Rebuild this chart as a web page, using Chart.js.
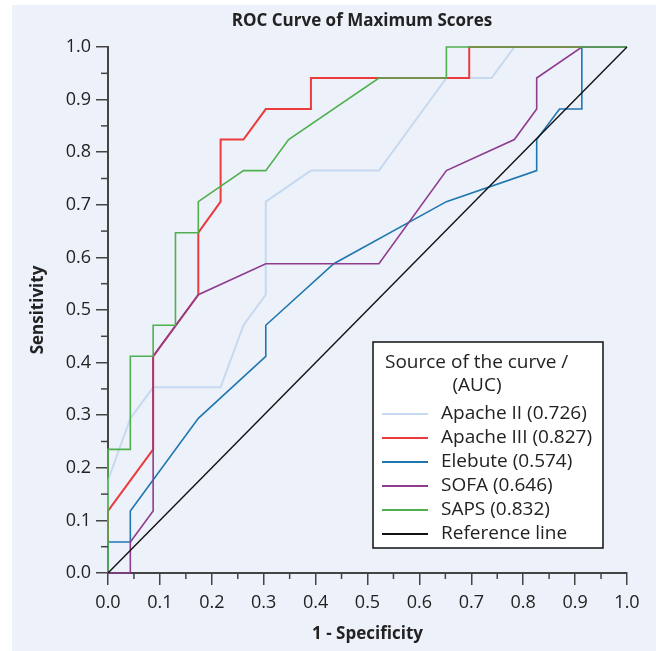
<!DOCTYPE html>
<html>
<head>
<meta charset="utf-8">
<script src="https://cdn.jsdelivr.net/npm/chart.js@4.4.1/dist/chart.umd.min.js"></script>
<style>
  body { margin: 0; background: #ffffff; }
  #wrap { position: absolute; left: 12px; top: 5px; width: 644px; height: 646px; }
</style>
</head>
<body>
<div id="wrap"><canvas id="rocChart"></canvas></div>
<script>
// Data
const seriesLabels = ["Apache II (0.726)", "Apache III (0.827)", "Elebute (0.574)", "SOFA (0.646)", "SAPS (0.832)", "Reference line"];

const apache2X = [0, 0, 0.043, 0.087, 0.217, 0.261, 0.304, 0.304, 0.391, 0.522, 0.652, 0.739, 0.783, 1.0];
const apache2Y = [0, 0.176, 0.294, 0.353, 0.353, 0.471, 0.529, 0.706, 0.765, 0.765, 0.941, 0.941, 1.0, 1.0];

const apache3X = [0, 0, 0.087, 0.087, 0.174, 0.174, 0.217, 0.217, 0.261, 0.304, 0.391, 0.391, 0.696, 0.696, 1.0];
const apache3Y = [0, 0.118, 0.235, 0.412, 0.529, 0.647, 0.706, 0.824, 0.824, 0.882, 0.882, 0.941, 0.941, 1.0, 1.0];

const elebuteX = [0, 0, 0.043, 0.043, 0.174, 0.304, 0.304, 0.435, 0.652, 0.826, 0.826, 0.870, 0.913, 0.913, 1.0];
const elebuteY = [0, 0.059, 0.059, 0.118, 0.294, 0.412, 0.471, 0.588, 0.706, 0.765, 0.824, 0.882, 0.882, 1.0, 1.0];

const sofaX = [0, 0.043, 0.043, 0.087, 0.087, 0.174, 0.304, 0.522, 0.652, 0.783, 0.826, 0.826, 0.913, 1.0];
const sofaY = [0, 0, 0.059, 0.118, 0.412, 0.529, 0.588, 0.588, 0.765, 0.824, 0.882, 0.941, 1.0, 1.0];

const sapsX = [0, 0, 0.043, 0.043, 0.087, 0.087, 0.130, 0.130, 0.174, 0.174, 0.261, 0.304, 0.348, 0.522, 0.652, 0.652, 1.0];
const sapsY = [0, 0.235, 0.235, 0.412, 0.412, 0.471, 0.471, 0.647, 0.647, 0.706, 0.765, 0.765, 0.824, 0.941, 0.941, 1.0, 1.0];

const refX = [0, 1];
const refY = [0, 1];

const majorTicks = [0, 0.1, 0.2, 0.3, 0.4, 0.5, 0.6, 0.7, 0.8, 0.9, 1.0];
const minorTicks = [0.05, 0.15, 0.25, 0.35, 0.45, 0.55, 0.65, 0.75, 0.85, 0.95];

const colors = ["#c5daf0", "#ec3b3d", "#1f77b0", "#8f3b8f", "#4fb04f", "#111111"];
const widths = [2, 2, 1.6, 1.6, 1.6, 1.4];

Chart.defaults.font.family = "'Open Sans', sans-serif";
Chart.defaults.color = "#222";

function toPoints(xs, ys) {
    return xs.map((x, i) => ({ x: x, y: ys[i] }));
}

const allX = [apache2X, apache3X, elebuteX, sofaX, sapsX, refX];
const allY = [apache2Y, apache3Y, elebuteY, sofaY, sapsY, refY];

const datasets = seriesLabels.map((label, i) => ({
    label: label,
    data: toPoints(allX[i], allY[i]),
    borderColor: colors[i],
    backgroundColor: colors[i],
    borderWidth: widths[i],
    showLine: true,
    pointRadius: 0,
    tension: 0,
    clip: 4,
    order: 6 - i
}));

// Panel background
const panelBg = {
    id: "panelBg",
    beforeDraw(chart) {
        const ctx = chart.ctx;
        ctx.save();
        ctx.fillStyle = "#edf1f9";
        ctx.fillRect(0, 0, chart.width, chart.height);
        ctx.restore();
    }
};

// Title, minor ticks and legend box
const extras = {
    id: "extras",
    afterDraw(chart) {
        const ctx = chart.ctx;
        const xs = chart.scales.x;
        const ys = chart.scales.y;
        const area = chart.chartArea;

        ctx.save();

        // title
        ctx.fillStyle = "#222";
        ctx.font = "bold 17px 'Open Sans', sans-serif";
        ctx.textAlign = "center";
        ctx.textBaseline = "middle";
        ctx.fillText("ROC Curve of Maximum Scores", 350, 16);

        // minor ticks
        ctx.strokeStyle = "#444";
        ctx.lineWidth = 1.5;
        minorTicks.forEach((v) => {
            const px = xs.getPixelForValue(v);
            ctx.beginPath();
            ctx.moveTo(px, area.bottom);
            ctx.lineTo(px, area.bottom + 6);
            ctx.stroke();
            const py = ys.getPixelForValue(v);
            ctx.beginPath();
            ctx.moveTo(area.left, py);
            ctx.lineTo(area.left - 7, py);
            ctx.stroke();
        });

        // legend box
        const bx = 361, by = 337, bw = 230, bh = 206;
        ctx.fillStyle = "#ffffff";
        ctx.fillRect(bx, by, bw, bh);
        ctx.strokeStyle = "#111";
        ctx.lineWidth = 1.5;
        ctx.strokeRect(bx, by, bw, bh);

        ctx.fillStyle = "#222";
        ctx.font = "19px 'Open Sans', sans-serif";
        ctx.textAlign = "left";
        ctx.fillText("Source of the curve /", bx + 12, by + 21);
        ctx.textAlign = "center";
        ctx.fillText("(AUC)", bx + 104, by + 44);

        ctx.textAlign = "left";
        chart.data.datasets.forEach((ds, i) => {
            const cy = by + 72 + i * 24;
            ctx.strokeStyle = ds.borderColor;
            ctx.lineWidth = 2;
            ctx.beginPath();
            ctx.moveTo(bx + 9, cy);
            ctx.lineTo(bx + 55, cy);
            ctx.stroke();
            ctx.fillStyle = "#222";
            ctx.fillText(ds.label, bx + 68, cy);
        });

        ctx.restore();
    }
};

new Chart(document.getElementById("rocChart"), {
    type: "scatter",
    data: { datasets: datasets },
    options: {
        responsive: true,
        maintainAspectRatio: false,
        animation: false,
        layout: { padding: { top: 42, right: 29, left: 0, bottom: 0 } },
        plugins: {
            legend: { display: false },
            title: { display: false },
            tooltip: { enabled: false }
        },
        scales: {
            x: {
                type: "linear",
                min: 0,
                max: 1,
                afterFit(scale) { scale.height = 78; },
                afterBuildTicks(scale) { scale.ticks = majorTicks.map((v) => ({ value: v })); },
                border: { color: "#444", width: 2 },
                grid: { drawOnChartArea: false, tickLength: 12, color: "#444", lineWidth: 1.5 },
                ticks: {
                    padding: 7,
                    maxRotation: 0,
                    font: { size: 18 },
                    color: "#222",
                    callback: (v) => v.toFixed(1)
                },
                title: {
                    display: true,
                    text: "1 - Specificity",
                    font: { size: 17, weight: "bold" },
                    color: "#222",
                    padding: { top: 0, bottom: 7 }
                }
            },
            y: {
                type: "linear",
                min: 0,
                max: 1,
                afterFit(scale) { scale.width = 96; },
                afterBuildTicks(scale) { scale.ticks = majorTicks.map((v) => ({ value: v })); },
                border: { color: "#444", width: 2 },
                grid: { drawOnChartArea: false, tickLength: 12, color: "#444", lineWidth: 1.5 },
                ticks: {
                    padding: 5,
                    font: { size: 18 },
                    color: "#222",
                    callback: (v) => v.toFixed(1)
                },
                title: {
                    display: true,
                    text: "Sensitivity",
                    font: { size: 17, weight: "bold" },
                    color: "#222",
                    padding: { top: 16, bottom: 0 }
                }
            }
        }
    },
    plugins: [panelBg, extras]
});
</script>
</body>
</html>
